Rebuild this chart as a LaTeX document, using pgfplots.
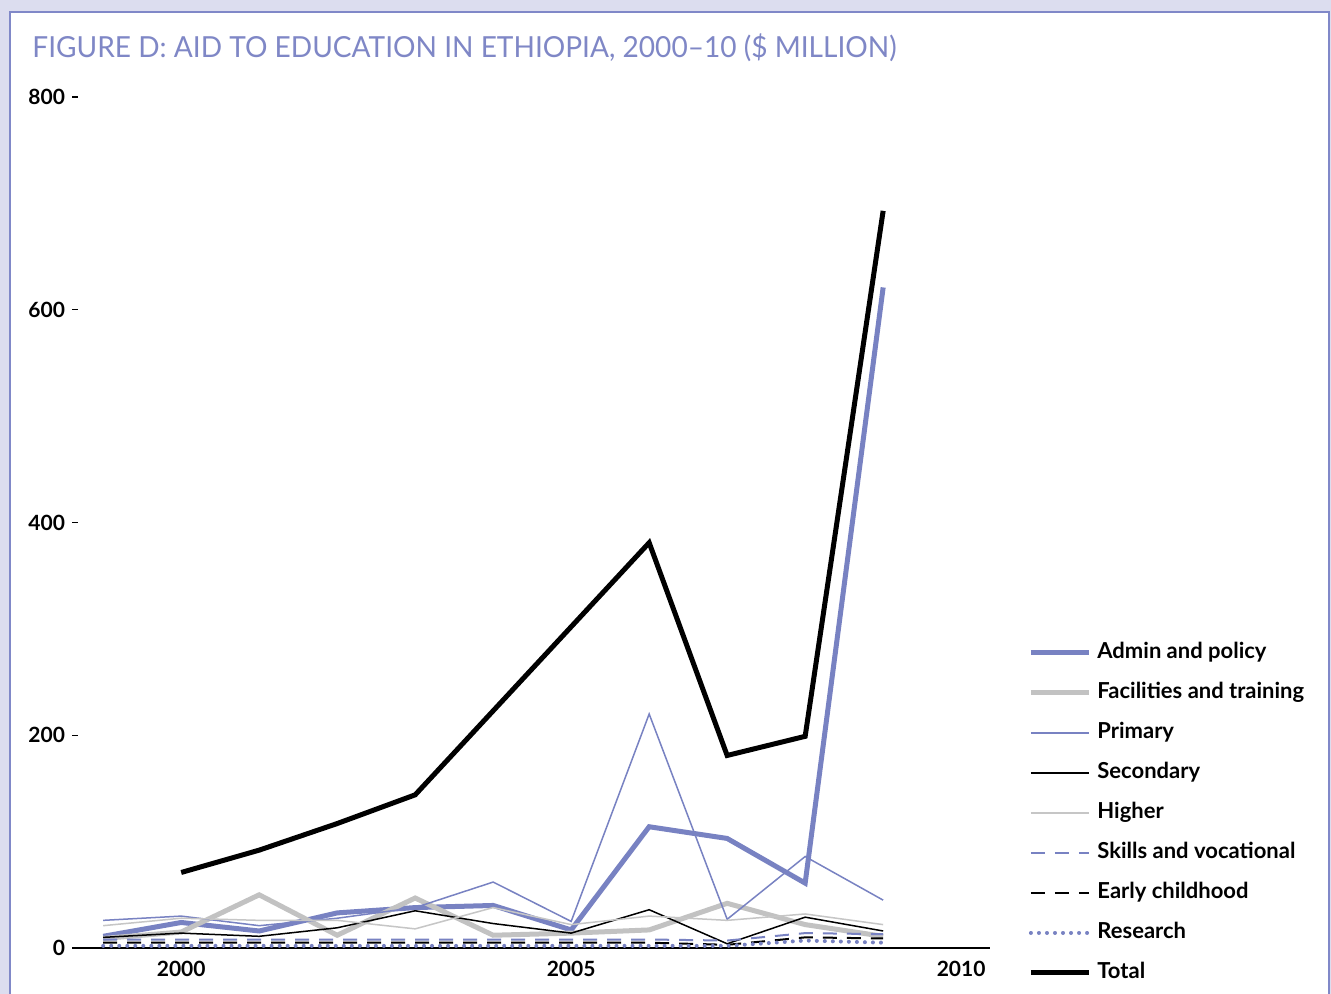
\documentclass[border=0pt]{standalone}
\usepackage{fontspec}
\setmainfont{Lato}
\usepackage{pgfplots}
\pgfplotsset{compat=1.18}
\definecolor{bg}{HTML}{DCDDEF}
\definecolor{frm}{HTML}{8088C8}
\definecolor{ttl}{HTML}{7F87C6}
\definecolor{blu}{HTML}{7882C2}
\definecolor{gry}{HTML}{C2C2C2}
\definecolor{lgry}{HTML}{C6C6C6}
\begin{document}
\begin{tikzpicture}
\useasboundingbox (0,0) rectangle (665.5pt,-497pt);
\clip (0,0) rectangle (665.5pt,-497pt);
\fill[bg] (0,0) rectangle (665.5pt,-497pt);
\draw[frm, line width=1.25pt, fill=white] (5pt,-6pt) rectangle (664.5pt,-520pt);
\node[anchor=base west, inner sep=0, text=ttl, font=\fontsize{14.5}{18}\selectfont] at (16pt,-29pt) {\scalebox{0.968}[1]{FIGURE D: AID TO EDUCATION IN ETHIOPIA, 2000–10 (\$ MILLION)}};
\begin{axis}[
  at={(36pt,-474pt)}, anchor=south west,
  scale only axis, width=459pt, height=425.5pt,
  xmin=1998.6, xmax=2010.37, ymin=0, ymax=800,
  axis x line=bottom, axis y line=left,
  x axis line style={-, line width=1.2pt},
  y axis line style={draw=none},
  xtick={2000,2005,2010}, ytick={0,200,400,600,800},
  xtick style={draw=none},
  ytick style={black, line width=0.6pt},
  tick align=inside, major tick length=3pt,
  /pgf/number format/1000 sep={},
  /pgf/number format/assume math mode=true,
  ticklabel style={font=\bfseries\fontsize{10.5}{12}\selectfont},
  xticklabel style={yshift=-3pt},
  clip=false,
  legend style={at={(1.0414,0.3597)}, anchor=north west, draw=none, fill=none,
    inner sep=0pt, row sep=9.5pt,
    nodes={inner sep=0pt, text height=8pt, text depth=2.5pt, font=\bfseries\fontsize{11}{12}\selectfont},
    /tikz/every odd column/.append style={column sep=3pt}},
  legend cell align=left,
  legend image code/.code={\draw[#1] (0pt,0pt) -- (29pt,0pt);},
]
\addplot[blu, line width=2.5pt] coordinates {(1999,11) (2000,24) (2001,16) (2002,33) (2003,38) (2004,40) (2005,17) (2006,114) (2007,103) (2008,61) (2009,621)};
\addlegendentry{Admin and policy}
\addplot[gry, line width=2.5pt] coordinates {(1999,9) (2000,15) (2001,50) (2002,12) (2003,47) (2004,12) (2005,14) (2006,17) (2007,42) (2008,22) (2009,11)};
\addlegendentry{Facilities and training}
\addplot[blu, line width=0.75pt] coordinates {(1999,26) (2000,30) (2001,21) (2002,28) (2003,38) (2004,62) (2005,25) (2006,220) (2007,27) (2008,86) (2009,45)};
\addlegendentry{Primary}
\addplot[black, line width=0.75pt] coordinates {(1999,10) (2000,14) (2001,11) (2002,19) (2003,35) (2004,23) (2005,14) (2006,36) (2007,4) (2008,29) (2009,16)};
\addlegendentry{Secondary}
\addplot[lgry, line width=0.75pt] coordinates {(1999,21) (2000,28) (2001,26) (2002,26) (2003,18) (2004,38) (2005,22) (2006,30) (2007,26) (2008,32) (2009,22)};
\addlegendentry{Higher}
\addplot[blu, line width=1pt, dash pattern=on 7pt off 5pt] coordinates {(1999,8) (2000,8) (2001,8) (2002,8) (2003,8) (2004,8) (2005,8) (2006,8) (2007,7) (2008,14) (2009,13)};
\addlegendentry{Skills and vocational}
\addplot[black, line width=1pt, dash pattern=on 7pt off 5pt] coordinates {(1999,5) (2000,5) (2001,5) (2002,5) (2003,5) (2004,5) (2005,5) (2006,5) (2007,3) (2008,10) (2009,9)};
\addlegendentry{Early childhood}
\addplot[blu, line width=2pt, dash pattern=on 0.01pt off 4pt, line cap=round] coordinates {(1999,2) (2000,2) (2001,2) (2002,2) (2003,2) (2004,2) (2005,2) (2006,2) (2007,2) (2008,7) (2009,5)};
\addlegendentry{Research}
\addplot[black, line width=2.5pt] coordinates {(2000,71) (2001,92) (2002,117) (2003,144) (2004,223) (2005,302) (2006,381) (2007,181) (2008,199) (2009,693)};
\addlegendentry{Total}
\end{axis}
\end{tikzpicture}
\end{document}
